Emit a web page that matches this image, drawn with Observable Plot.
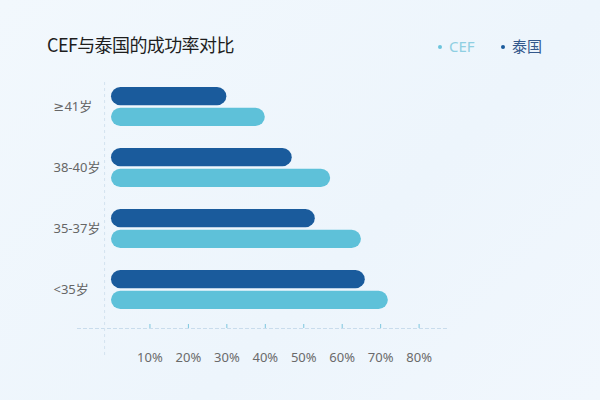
<!DOCTYPE html>
<html>
<head>
<meta charset="utf-8">
<script src="https://cdn.jsdelivr.net/npm/d3@7"></script>
<script src="https://cdn.jsdelivr.net/npm/@observablehq/plot@0.6"></script>
<style>
  html, body { margin: 0; padding: 0; }
  body { width: 600px; height: 400px; overflow: hidden;
         background: linear-gradient(135deg, #f2f8fd 0%, #edf5fc 60%, #f1f7fd 100%);
         font-family: "Noto Sans", "Noto Sans CJK SC", sans-serif; }
  #header { position: relative; width: 600px; height: 60px; }
  #title { position: absolute; left: 47px; top: 30px; line-height: 28px; font-size: 18px; letter-spacing: -0.6px; color: #1e1e1e;
           font-family: "Noto Sans CJK SC", sans-serif; }
  .leg { position: absolute; top: 34px; line-height: 24px; font-size: 15px; }
  .leg span.dot { display: inline-block; width: 4px; height: 4px; border-radius: 2px; vertical-align: middle; margin-right: 7px; position: relative; top: -1px; }
  #chart svg { display: block; background: transparent; }
</style>
</head>
<body>
<div id="header">
  <div id="title">CEF与泰国的成功率对比</div>
  <div class="leg" id="leg1" style="left:438px;color:#8fcfe2;"><span class="dot" style="background:#6cc4dc"></span>CEF</div>
  <div class="leg" id="leg2" style="left:501px;color:#34598c;"><span class="dot" style="background:#1a5b9c"></span><span style="font-family:'Noto Sans CJK SC'">泰国</span></div>
</div>
<div id="chart"></div>
<script>
const categories = ["≥41岁", "38-40岁", "35-37岁", "<35岁"];
const cefValues = [40, 57, 65, 72];
const thaiValues = [30, 47, 53, 66];
const xTicks = [10, 20, 30, 40, 50, 60, 70, 80];
const seriesNames = ["CEF", "泰国"];

const rows = categories.map((c, i) => ({age: c, cef: cefValues[i], thai: thaiValues[i]}));

const darkBlue = "#1a5b9c";
const lightBlue = "#5ec1d9";

const chart = Plot.plot({
  width: 600,
  height: 340,
  marginLeft: 77,
  marginRight: 153,
  marginTop: 0,
  marginBottom: 72,
  style: {background: "transparent", fontFamily: "'Noto Sans', 'DejaVu Sans', 'Noto Sans CJK SC', sans-serif"},
  x: {domain: [0, 80], range: [111, 418.6], axis: null},
  y: {domain: categories, range: [4.2, 272.3], padding: 0.36, axis: null},
  marks: [
    Plot.frame({anchor: "bottom", stroke: "#c9dcec", strokeDasharray: "3,3"}),
    Plot.ruleX([-1.8], {stroke: "#d3e2ef", strokeDasharray: "3,3", insetTop: 22, insetBottom: -27}),
    Plot.ruleX(xTicks, {x: d => d, stroke: "#7cc6de", insetTop: 264}),
    Plot.axisX({ticks: xTicks, tickSize: 0, tickPadding: 24, tickFormat: d => d + "%", fontSize: 13, fill: "#6a6a6a", stroke: null}),
    Plot.text(categories, {y: d => d, frameAnchor: "left", textAnchor: "start", dx: -24, fontSize: 13, fill: "#666"}),
    Plot.barX(rows, {y: "age", x: "thai", fill: darkBlue, insetBottom: 20.7, rx: 9.3}),
    Plot.barX(rows, {y: "age", x: "cef", fill: lightBlue, insetTop: 20.7, rx: 9.3})
  ]
});
document.getElementById("chart").appendChild(chart);
</script>
</body>
</html>
